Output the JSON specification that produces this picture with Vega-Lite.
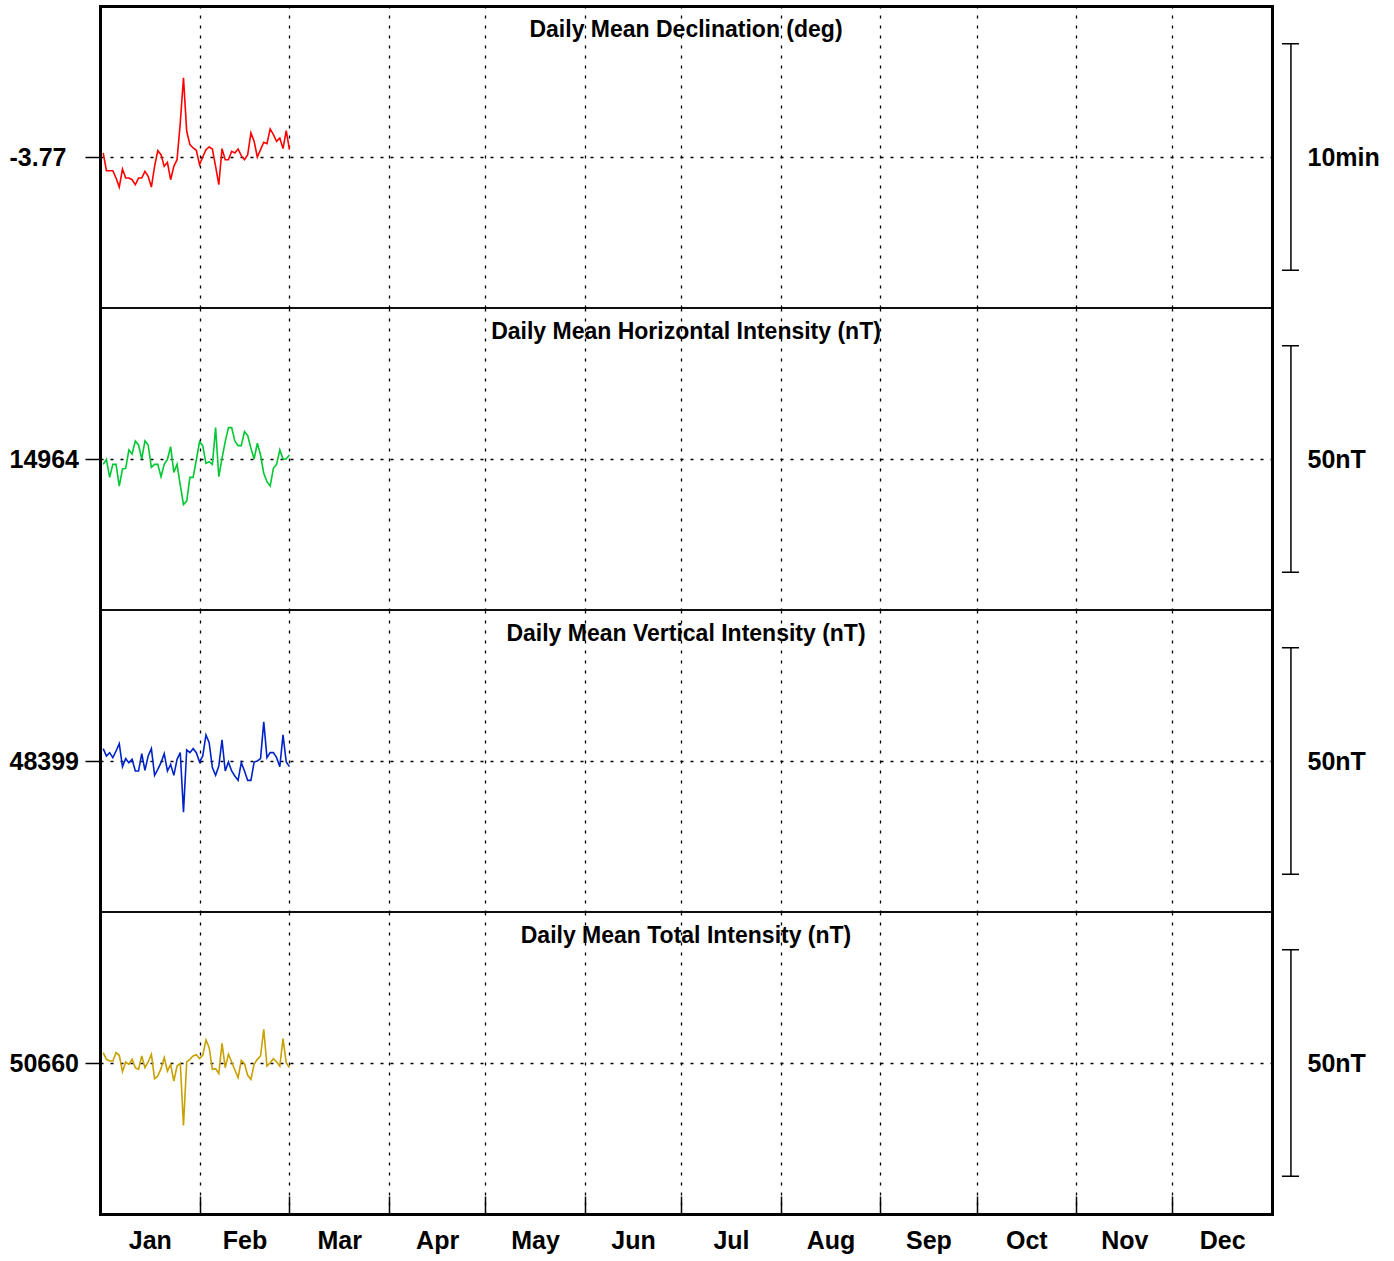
{
  "$schema": "https://vega.github.io/schema/vega-lite/v6.json",
  "padding": {"left": 8, "top": 5, "right": 5, "bottom": 5},
  "background": "white",
  "spacing": 0,
  "bounds": "flush",
  "datasets": {
    "D": [
      {"day":1,"value":-3.76705},{"day":2,"value":-3.78008},{"day":3,"value":-3.78008},{"day":4,"value":-3.78008},{"day":5,"value":-3.78548},
      {"day":6,"value":-3.79212},{"day":7,"value":-3.77885},{"day":8,"value":-3.78548},{"day":9,"value":-3.78548},{"day":10,"value":-3.78672},
      {"day":11,"value":-3.7904},{"day":12,"value":-3.78548},{"day":13,"value":-3.78548},{"day":14,"value":-3.78057},{"day":15,"value":-3.78425},
      {"day":16,"value":-3.79212},{"day":17,"value":-3.77688},{"day":18,"value":-3.76533},{"day":19,"value":-3.76828},{"day":20,"value":-3.77688},
      {"day":21,"value":-3.77393},{"day":22,"value":-3.78672},{"day":23,"value":-3.77688},{"day":24,"value":-3.77197},{"day":25,"value":-3.74493},
      {"day":26,"value":-3.71173},{"day":27,"value":-3.75107},{"day":28,"value":-3.7609},{"day":29,"value":-3.76337},{"day":30,"value":-3.76508},
      {"day":31,"value":-3.77565},{"day":32,"value":-3.77},{"day":33,"value":-3.7646},{"day":34,"value":-3.76263},{"day":35,"value":-3.7641},
      {"day":36,"value":-3.77688},{"day":37,"value":-3.7904},{"day":38,"value":-3.76385},{"day":39,"value":-3.77197},{"day":40,"value":-3.77197},
      {"day":41,"value":-3.76582},{"day":42,"value":-3.76705},{"day":43,"value":-3.7641},{"day":44,"value":-3.76902},{"day":45,"value":-3.77197},
      {"day":46,"value":-3.76828},{"day":47,"value":-3.7523},{"day":48,"value":-3.75845},{"day":49,"value":-3.77},{"day":50,"value":-3.7646},
      {"day":51,"value":-3.75918},{"day":52,"value":-3.76017},{"day":53,"value":-3.74935},{"day":54,"value":-3.75353},{"day":55,"value":-3.75845},
      {"day":56,"value":-3.75598},{"day":57,"value":-3.76385},{"day":58,"value":-3.75058},{"day":59,"value":-3.7646}
    ],
    "H": [
      {"day":1,"value":14962.82},{"day":2,"value":14963.93},{"day":3,"value":14959.94},{"day":4,"value":14962.82},{"day":5,"value":14962.82},
      {"day":6,"value":14958.03},{"day":7,"value":14961.79},{"day":8,"value":14961.94},{"day":9,"value":14965.99},{"day":10,"value":14965.11},
      {"day":11,"value":14967.98},{"day":12,"value":14967.10},{"day":13,"value":14964.00},{"day":14,"value":14967.98},{"day":15,"value":14967.10},
      {"day":16,"value":14962.16},{"day":17,"value":14962.82},{"day":18,"value":14962.82},{"day":19,"value":14960.09},{"day":20,"value":14962.82},
      {"day":21,"value":14963.93},{"day":22,"value":14966.73},{"day":23,"value":14961.05},{"day":24,"value":14962.82},{"day":25,"value":14958.25},
      {"day":26,"value":14953.97},{"day":27,"value":14954.71},{"day":28,"value":14959.94},{"day":29,"value":14959.94},{"day":30,"value":14963.78},
      {"day":31,"value":14967.83},{"day":32,"value":14966.95},{"day":33,"value":14963.04},{"day":34,"value":14963.41},{"day":35,"value":14962.82},
      {"day":36,"value":14970.93},{"day":37,"value":14960.09},{"day":38,"value":14964.15},{"day":39,"value":14967.83},{"day":40,"value":14970.93},
      {"day":41,"value":14970.93},{"day":42,"value":14967.98},{"day":43,"value":14966.95},{"day":44,"value":14966.95},{"day":45,"value":14970.05},
      {"day":46,"value":14969.16},{"day":47,"value":14966.36},{"day":48,"value":14964.00},{"day":49,"value":14967.47},{"day":50,"value":14964.88},
      {"day":51,"value":14960.83},{"day":52,"value":14958.99},{"day":53,"value":14958.03},{"day":54,"value":14961.94},{"day":55,"value":14962.82},
      {"day":56,"value":14965.99},{"day":57,"value":14964.00},{"day":58,"value":14964.00},{"day":59,"value":14964.88}
    ],
    "Z": [
      {"day":1,"value":48401.73},{"day":2,"value":48400.11},{"day":3,"value":48400.84},{"day":4,"value":48399.74},{"day":5,"value":48401.21},
      {"day":6,"value":48402.83},{"day":7,"value":48397.75},{"day":8,"value":48399.52},{"day":9,"value":48398.63},{"day":10,"value":48399.37},
      {"day":11,"value":48396.79},{"day":12,"value":48396.79},{"day":13,"value":48400.62},{"day":14,"value":48396.94},{"day":15,"value":48400.11},
      {"day":16,"value":48401.73},{"day":17,"value":48395.83},{"day":18,"value":48397.16},{"day":19,"value":48398.63},{"day":20,"value":48400.62},
      {"day":21,"value":48396.79},{"day":22,"value":48398.26},{"day":23,"value":48395.83},{"day":24,"value":48399.37},{"day":25,"value":48400.84},
      {"day":26,"value":48387.72},{"day":27,"value":48401.43},{"day":28,"value":48400.84},{"day":29,"value":48401.73},{"day":30,"value":48400.84},
      {"day":31,"value":48398.78},{"day":32,"value":48400.11},{"day":33,"value":48404.75},{"day":34,"value":48403.06},{"day":35,"value":48397.53},
      {"day":36,"value":48395.83},{"day":37,"value":48397.89},{"day":38,"value":48403.65},{"day":39,"value":48396.79},{"day":40,"value":48398.78},
      {"day":41,"value":48396.79},{"day":42,"value":48395.68},{"day":43,"value":48394.72},{"day":44,"value":48398.63},{"day":45,"value":48396.79},
      {"day":46,"value":48394.72},{"day":47,"value":48394.72},{"day":48,"value":48398.78},{"day":49,"value":48399.00},{"day":50,"value":48399.52},
      {"day":51,"value":48407.63},{"day":52,"value":48399.74},{"day":53,"value":48400.84},{"day":54,"value":48400.84},{"day":55,"value":48399.74},
      {"day":56,"value":48397.75},{"day":57,"value":48404.75},{"day":58,"value":48398.78},{"day":59,"value":48397.75}
    ],
    "F": [
      {"day":1,"value":50662.29},{"day":2,"value":50660.81},{"day":3,"value":50660.44},{"day":4,"value":50660.44},{"day":5,"value":50662.29},
      {"day":6,"value":50661.70},{"day":7,"value":50658.08},{"day":8,"value":50660.22},{"day":9,"value":50659.71},{"day":10,"value":50660.81},
      {"day":11,"value":50658.97},{"day":12,"value":50658.60},{"day":13,"value":50661.55},{"day":14,"value":50658.97},{"day":15,"value":50660.22},
      {"day":16,"value":50661.92},{"day":17,"value":50656.53},{"day":18,"value":50657.12},{"day":19,"value":50658.75},{"day":20,"value":50661.18},
      {"day":21,"value":50658.23},{"day":22,"value":50659.71},{"day":23,"value":50656.02},{"day":24,"value":50659.34},{"day":25,"value":50659.93},
      {"day":26,"value":50646.21},{"day":27,"value":50660.22},{"day":28,"value":50660.81},{"day":29,"value":50661.55},{"day":30,"value":50661.84},
      {"day":31,"value":50660.96},{"day":32,"value":50661.70},{"day":33,"value":50665.09},{"day":34,"value":50663.39},{"day":35,"value":50658.60},
      {"day":36,"value":50658.75},{"day":37,"value":50657.64},{"day":38,"value":50664.35},{"day":39,"value":50658.97},{"day":40,"value":50661.92},
      {"day":41,"value":50660.22},{"day":42,"value":50658.45},{"day":43,"value":50656.76},{"day":44,"value":50660.59},{"day":45,"value":50659.85},
      {"day":46,"value":50657.27},{"day":47,"value":50656.39},{"day":48,"value":50659.71},{"day":49,"value":50660.81},{"day":50,"value":50661.55},
      {"day":51,"value":50667.45},{"day":52,"value":50659.34},{"day":53,"value":50660.07},{"day":54,"value":50660.96},{"day":55,"value":50660.22},
      {"day":56,"value":50659.34},{"day":57,"value":50665.38},{"day":58,"value":50660.07},{"day":59,"value":50658.97}
    ],
    "bars": [
      {"comp":"D","lo":-3.853333,"hi":-3.686667},
      {"comp":"H","lo":14939,"hi":14989},
      {"comp":"Z","lo":48374,"hi":48424},
      {"comp":"F","lo":50635,"hi":50685}
    ]
  },
  "vconcat": [
    {
      "title": "Daily Mean Declination (deg)",
      "width": 1172, "height": 302,
      "layer": [
        {
          "data": {"name": "D"},
          "mark": {"type": "line", "color": "#ff0000", "strokeWidth": 1.6},
          "encoding": {
            "x": {"field": "day", "type": "quantitative", "scale": {"domain": [0, 365], "nice": false, "zero": false},
                  "axis": {"orient": "top", "values": [31,59,90,120,151,181,212,243,273,304,334], "grid": true, "ticks": false, "labels": false, "domain": true, "domainWidth": 3, "title": null}},
            "y": {"field": "value", "type": "quantitative", "scale": {"domain": [-3.881111, -3.658889], "nice": false, "zero": false},
                  "axis": {"orient": "left", "values": [-3.77], "labelExpr": "(datum.value < 0 ? '-' : '') + format(abs(datum.value), '.2f')", "grid": true, "tickSize": 15, "labelAlign": "left", "labelPadding": 76, "labelBaseline": "middle", "domain": true, "domainWidth": 3, "title": null}}
          }
        },
        {
          "data": {"name": "bars"},
          "transform": [{"filter": "datum.comp === 'D'"}],
          "mark": {"type": "rule", "color": "black", "strokeWidth": 1.5},
          "encoding": {
            "x": {"datum": 370.9, "type": "quantitative", "scale": {"domain": [0, 365], "nice": false, "zero": false}, "axis": null},
            "y": {"field": "lo", "type": "quantitative", "scale": {"domain": [-3.881111, -3.658889], "nice": false, "zero": false},
                  "axis": {"orient": "right", "values": [-3.77], "labelExpr": "'10min'", "ticks": false, "grid": false, "domain": true, "domainWidth": 3, "labelPadding": 35, "labelAlign": "left", "labelBaseline": "middle", "title": null}},
            "y2": {"field": "hi"}
          }
        },
        {
          "data": {"name": "bars"},
          "transform": [{"filter": "datum.comp === 'D'"}],
          "mark": {"type": "rule", "color": "black", "strokeWidth": 1.5},
          "encoding": {
            "x": {"datum": 368.1, "type": "quantitative", "scale": {"domain": [0, 365], "nice": false, "zero": false}, "axis": null},
            "x2": {"datum": 373.4},
            "y": {"field": "lo", "type": "quantitative", "scale": {"domain": [-3.881111, -3.658889], "nice": false, "zero": false}, "axis": null}
          }
        },
        {
          "data": {"name": "bars"},
          "transform": [{"filter": "datum.comp === 'D'"}],
          "mark": {"type": "rule", "color": "black", "strokeWidth": 1.5},
          "encoding": {
            "x": {"datum": 368.1, "type": "quantitative", "scale": {"domain": [0, 365], "nice": false, "zero": false}, "axis": null},
            "x2": {"datum": 373.4},
            "y": {"field": "hi", "type": "quantitative", "scale": {"domain": [-3.881111, -3.658889], "nice": false, "zero": false}, "axis": null}
          }
        }
      ],
      "resolve": {"axis": {"x": "independent", "y": "independent"}}
    },
    {
      "title": "Daily Mean Horizontal Intensity (nT)",
      "width": 1172, "height": 302,
      "layer": [
        {
          "data": {"name": "H"},
          "mark": {"type": "line", "color": "#00c832", "strokeWidth": 1.6},
          "encoding": {
            "x": {"field": "day", "type": "quantitative", "scale": {"domain": [0, 365], "nice": false, "zero": false},
                  "axis": {"orient": "bottom", "values": [31,59,90,120,151,181,212,243,273,304,334], "grid": true, "ticks": false, "labels": false, "domain": false, "title": null}},
            "y": {"field": "value", "type": "quantitative", "scale": {"domain": [14930.667, 14997.333], "nice": false, "zero": false},
                  "axis": {"orient": "left", "values": [14964], "format": "d", "grid": true, "tickSize": 15, "labelAlign": "left", "labelPadding": 76, "labelBaseline": "middle", "domain": true, "domainWidth": 3, "title": null}}
          }
        },
        {
          "data": {"name": "bars"},
          "transform": [{"filter": "datum.comp === 'H'"}],
          "mark": {"type": "rule", "color": "black", "strokeWidth": 1.5},
          "encoding": {
            "x": {"datum": 370.9, "type": "quantitative", "scale": {"domain": [0, 365], "nice": false, "zero": false}, "axis": null},
            "y": {"field": "lo", "type": "quantitative", "scale": {"domain": [14930.667, 14997.333], "nice": false, "zero": false},
                  "axis": {"orient": "right", "values": [14964], "labelExpr": "'50nT'", "ticks": false, "grid": false, "domain": true, "domainWidth": 3, "labelPadding": 35, "labelAlign": "left", "labelBaseline": "middle", "title": null}},
            "y2": {"field": "hi"}
          }
        },
        {
          "data": {"name": "bars"},
          "transform": [{"filter": "datum.comp === 'H'"}],
          "mark": {"type": "rule", "color": "black", "strokeWidth": 1.5},
          "encoding": {
            "x": {"datum": 368.1, "type": "quantitative", "scale": {"domain": [0, 365], "nice": false, "zero": false}, "axis": null},
            "x2": {"datum": 373.4},
            "y": {"field": "lo", "type": "quantitative", "scale": {"domain": [14930.667, 14997.333], "nice": false, "zero": false}, "axis": null}
          }
        },
        {
          "data": {"name": "bars"},
          "transform": [{"filter": "datum.comp === 'H'"}],
          "mark": {"type": "rule", "color": "black", "strokeWidth": 1.5},
          "encoding": {
            "x": {"datum": 368.1, "type": "quantitative", "scale": {"domain": [0, 365], "nice": false, "zero": false}, "axis": null},
            "x2": {"datum": 373.4},
            "y": {"field": "hi", "type": "quantitative", "scale": {"domain": [14930.667, 14997.333], "nice": false, "zero": false}, "axis": null}
          }
        }
      ],
      "resolve": {"axis": {"x": "independent", "y": "independent"}}
    },
    {
      "title": "Daily Mean Vertical Intensity (nT)",
      "width": 1172, "height": 302,
      "layer": [
        {
          "data": {"name": "Z"},
          "mark": {"type": "line", "color": "#0023c8", "strokeWidth": 1.6},
          "encoding": {
            "x": {"field": "day", "type": "quantitative", "scale": {"domain": [0, 365], "nice": false, "zero": false},
                  "axis": {"orient": "bottom", "values": [31,59,90,120,151,181,212,243,273,304,334], "grid": true, "ticks": false, "labels": false, "domain": false, "title": null}},
            "y": {"field": "value", "type": "quantitative", "scale": {"domain": [48365.667, 48432.333], "nice": false, "zero": false},
                  "axis": {"orient": "left", "values": [48399], "format": "d", "grid": true, "tickSize": 15, "labelAlign": "left", "labelPadding": 76, "labelBaseline": "middle", "domain": true, "domainWidth": 3, "title": null}}
          }
        },
        {
          "data": {"name": "bars"},
          "transform": [{"filter": "datum.comp === 'Z'"}],
          "mark": {"type": "rule", "color": "black", "strokeWidth": 1.5},
          "encoding": {
            "x": {"datum": 370.9, "type": "quantitative", "scale": {"domain": [0, 365], "nice": false, "zero": false}, "axis": null},
            "y": {"field": "lo", "type": "quantitative", "scale": {"domain": [48365.667, 48432.333], "nice": false, "zero": false},
                  "axis": {"orient": "right", "values": [48399], "labelExpr": "'50nT'", "ticks": false, "grid": false, "domain": true, "domainWidth": 3, "labelPadding": 35, "labelAlign": "left", "labelBaseline": "middle", "title": null}},
            "y2": {"field": "hi"}
          }
        },
        {
          "data": {"name": "bars"},
          "transform": [{"filter": "datum.comp === 'Z'"}],
          "mark": {"type": "rule", "color": "black", "strokeWidth": 1.5},
          "encoding": {
            "x": {"datum": 368.1, "type": "quantitative", "scale": {"domain": [0, 365], "nice": false, "zero": false}, "axis": null},
            "x2": {"datum": 373.4},
            "y": {"field": "lo", "type": "quantitative", "scale": {"domain": [48365.667, 48432.333], "nice": false, "zero": false}, "axis": null}
          }
        },
        {
          "data": {"name": "bars"},
          "transform": [{"filter": "datum.comp === 'Z'"}],
          "mark": {"type": "rule", "color": "black", "strokeWidth": 1.5},
          "encoding": {
            "x": {"datum": 368.1, "type": "quantitative", "scale": {"domain": [0, 365], "nice": false, "zero": false}, "axis": null},
            "x2": {"datum": 373.4},
            "y": {"field": "hi", "type": "quantitative", "scale": {"domain": [48365.667, 48432.333], "nice": false, "zero": false}, "axis": null}
          }
        }
      ],
      "resolve": {"axis": {"x": "independent", "y": "independent"}}
    },
    {
      "title": "Daily Mean Total Intensity (nT)",
      "width": 1172, "height": 302,
      "layer": [
        {
          "data": {"name": "F"},
          "mark": {"type": "line", "color": "#c8a000", "strokeWidth": 1.6},
          "encoding": {
            "x": {"field": "day", "type": "quantitative", "scale": {"domain": [0, 365], "nice": false, "zero": false},
                  "axis": {"orient": "bottom", "values": [31,59,90,120,151,181,212,243,273,304,334], "grid": true, "ticks": true, "tickSize": -18, "labels": false, "domain": true, "domainWidth": 3, "title": null}},
            "y": {"field": "value", "type": "quantitative", "scale": {"domain": [50626.667, 50693.333], "nice": false, "zero": false},
                  "axis": {"orient": "left", "values": [50660], "format": "d", "grid": true, "tickSize": 15, "labelAlign": "left", "labelPadding": 76, "labelBaseline": "middle", "domain": true, "domainWidth": 3, "title": null}}
          }
        },
        {
          "data": {"name": "bars"},
          "transform": [{"filter": "datum.comp === 'F'"}],
          "mark": {"type": "rule", "color": "black", "strokeWidth": 1.5},
          "encoding": {
            "x": {"datum": 370.9, "type": "quantitative", "scale": {"domain": [0, 365], "nice": false, "zero": false},
                  "axis": {"orient": "bottom", "values": [15.5,45,74.5,105,135.5,166,196.5,227.5,258,288.5,319,349.5],
                           "labelExpr": "['Jan','Feb','Mar','Apr','May','Jun','Jul','Aug','Sep','Oct','Nov','Dec'][indexof([15.5,45,74.5,105,135.5,166,196.5,227.5,258,288.5,319,349.5], datum.value)]",
                           "ticks": false, "grid": false, "domain": false, "labelPadding": 14, "labelOverlap": false, "labelFlush": false, "labelBound": false, "title": null}},
            "y": {"field": "lo", "type": "quantitative", "scale": {"domain": [50626.667, 50693.333], "nice": false, "zero": false},
                  "axis": {"orient": "right", "values": [50660], "labelExpr": "'50nT'", "ticks": false, "grid": false, "domain": true, "domainWidth": 3, "labelPadding": 35, "labelAlign": "left", "labelBaseline": "middle", "title": null}},
            "y2": {"field": "hi"}
          }
        },
        {
          "data": {"name": "bars"},
          "transform": [{"filter": "datum.comp === 'F'"}],
          "mark": {"type": "rule", "color": "black", "strokeWidth": 1.5},
          "encoding": {
            "x": {"datum": 368.1, "type": "quantitative", "scale": {"domain": [0, 365], "nice": false, "zero": false}, "axis": null},
            "x2": {"datum": 373.4},
            "y": {"field": "lo", "type": "quantitative", "scale": {"domain": [50626.667, 50693.333], "nice": false, "zero": false}, "axis": null}
          }
        },
        {
          "data": {"name": "bars"},
          "transform": [{"filter": "datum.comp === 'F'"}],
          "mark": {"type": "rule", "color": "black", "strokeWidth": 1.5},
          "encoding": {
            "x": {"datum": 368.1, "type": "quantitative", "scale": {"domain": [0, 365], "nice": false, "zero": false}, "axis": null},
            "x2": {"datum": 373.4},
            "y": {"field": "hi", "type": "quantitative", "scale": {"domain": [50626.667, 50693.333], "nice": false, "zero": false}, "axis": null}
          }
        }
      ],
      "resolve": {"axis": {"x": "independent", "y": "independent"}}
    }
  ],
  "config": {
    "font": "Liberation Sans",
    "view": {"stroke": "black", "strokeWidth": 1.5},
    "concat": {"spacing": 0},
    "axis": {
      "labelFont": "Liberation Sans", "labelFontSize": 25, "labelFontWeight": "bold", "labelColor": "black",
      "gridColor": "black", "gridDash": [3, 7], "gridWidth": 1.3, "gridOpacity": 1,
      "tickColor": "black", "tickWidth": 1.5, "domainColor": "black", "domainCap": "square"
    },
    "title": {
      "font": "Liberation Sans", "fontSize": 23, "fontWeight": "bold", "color": "black",
      "anchor": "middle", "frame": "group", "offset": -36, "baseline": "middle"
    }
  }
}
